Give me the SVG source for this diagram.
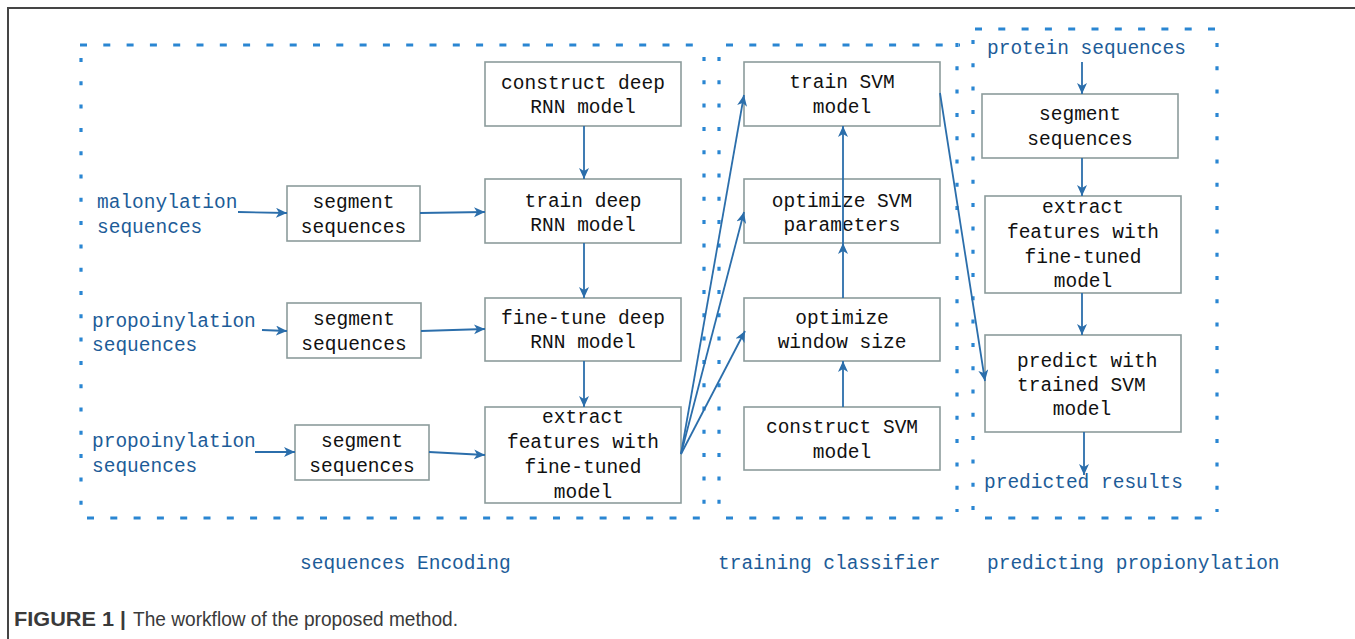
<svg xmlns="http://www.w3.org/2000/svg" width="1355" height="639" viewBox="0 0 1355 639">
  <style>
    .frame { fill: none; stroke: #454545; stroke-width: 2; }
    .hdash { fill: none; stroke: #2a86d2; stroke-width: 3.2; stroke-dasharray: 7 16.3; }
    .vdash { fill: none; stroke: #2a86d2; stroke-width: 3.2; stroke-dasharray: 4 19.3; }
    .box { fill: #ffffff; stroke: #8c9c9c; stroke-width: 1.6; }
    .t { font-family: "Liberation Mono", "DejaVu Sans Mono", monospace; font-size: 19.5px; fill: #111111; }
    .c { text-anchor: middle; }
    .lbl { font-family: "Liberation Mono", "DejaVu Sans Mono", monospace; font-size: 19.5px; fill: #1d5c98; }
    .conn { fill: none; stroke: #2b6eab; stroke-width: 1.8; marker-end: url(#arrow); }
    .cap { font-family: "Liberation Sans", Arial, sans-serif; font-size: 21px; fill: #3a3a3a; }
  </style>
  <defs>
    <marker id="arrow" markerUnits="userSpaceOnUse" markerWidth="12" markerHeight="11" refX="11" refY="5" orient="auto">
      <path d="M0,0 L11,5 L0,10 L3,5 Z" fill="#2b6eab"/>
    </marker>
  </defs>

  <rect width="1355" height="639" fill="#ffffff"/>

  <!-- page frame -->
  <path class="frame" d="M8,639 L8,8 L1355,8"/>

  <!-- stage boundaries -->
  <g id="stages">
    <!-- sequences encoding -->
    <line class="hdash" x1="80" y1="45" x2="703" y2="45"/>
    <line class="vdash" x1="81" y1="58" x2="81" y2="512"/>
    <line class="vdash" x1="704" y1="57" x2="704" y2="512"/>
    <line class="hdash" x1="87" y1="518" x2="700" y2="518"/>
    <!-- training classifier -->
    <line class="hdash" x1="726" y1="45" x2="960" y2="45"/>
    <line class="vdash" x1="719" y1="57" x2="719" y2="512"/>
    <line class="vdash" x1="957" y1="43" x2="957" y2="512"/>
    <line class="hdash" x1="726" y1="518" x2="950" y2="518"/>
    <!-- predicting propionylation -->
    <line class="hdash" x1="975" y1="29" x2="1216" y2="29"/>
    <line class="vdash" x1="973" y1="40" x2="973" y2="512"/>
    <line class="vdash" x1="1217" y1="43" x2="1217" y2="512"/>
    <line class="hdash" x1="985" y1="518" x2="1212" y2="518"/>
  </g>

  <!-- inputs and outputs -->
  <g id="in-malonylation">
    <text class="lbl" x="97" y="208">malonylation</text>
    <text class="lbl" x="97" y="233">sequences</text>
  </g>
  <g id="in-propionylation-1">
    <text class="lbl" x="92" y="327">propoinylation</text>
    <text class="lbl" x="92" y="351">sequences</text>
  </g>
  <g id="in-propionylation-2">
    <text class="lbl" x="92" y="447">propoinylation</text>
    <text class="lbl" x="92" y="472">sequences</text>
  </g>
  <g id="in-protein">
    <text class="lbl" x="987" y="54">protein sequences</text>
  </g>
  <g id="out-results">
    <text class="lbl" x="984" y="488">predicted results</text>
  </g>

  <!-- encoding column -->
  <g id="segment-1">
    <rect class="box" x="287" y="186" width="133" height="55"/>
    <text class="t c" x="353.5" y="208">segment</text>
    <text class="t c" x="353.5" y="233">sequences</text>
  </g>
  <g id="segment-2">
    <rect class="box" x="287" y="303" width="134" height="55"/>
    <text class="t c" x="354" y="325">segment</text>
    <text class="t c" x="354" y="350">sequences</text>
  </g>
  <g id="segment-3">
    <rect class="box" x="295" y="425" width="134" height="55"/>
    <text class="t c" x="362" y="447">segment</text>
    <text class="t c" x="362" y="472">sequences</text>
  </g>
  <g id="construct-rnn">
    <rect class="box" x="485" y="62" width="196" height="64"/>
    <text class="t c" x="583" y="89">construct deep</text>
    <text class="t c" x="583" y="113">RNN model</text>
  </g>
  <g id="train-rnn">
    <rect class="box" x="485" y="179" width="196" height="64"/>
    <text class="t c" x="583" y="207">train deep</text>
    <text class="t c" x="583" y="231">RNN model</text>
  </g>
  <g id="finetune-rnn">
    <rect class="box" x="485" y="298" width="196" height="63"/>
    <text class="t c" x="583" y="324">fine-tune deep</text>
    <text class="t c" x="583" y="348">RNN model</text>
  </g>
  <g id="extract-features">
    <rect class="box" x="485" y="407" width="196" height="96"/>
    <text class="t c" x="583" y="423">extract</text>
    <text class="t c" x="583" y="448">features with</text>
    <text class="t c" x="583" y="473">fine-tuned</text>
    <text class="t c" x="583" y="498">model</text>
  </g>

  <!-- classifier column -->
  <g id="train-svm">
    <rect class="box" x="744" y="62" width="196" height="64"/>
    <text class="t c" x="842" y="88">train SVM</text>
    <text class="t c" x="842" y="113">model</text>
  </g>
  <g id="optimize-params">
    <rect class="box" x="744" y="179" width="196" height="64"/>
    <text class="t c" x="842" y="207">optimize SVM</text>
    <text class="t c" x="842" y="231">parameters</text>
  </g>
  <g id="optimize-window">
    <rect class="box" x="744" y="298" width="196" height="63"/>
    <text class="t c" x="842" y="324">optimize</text>
    <text class="t c" x="842" y="348">window size</text>
  </g>
  <g id="construct-svm">
    <rect class="box" x="744" y="407" width="196" height="63"/>
    <text class="t c" x="842" y="433">construct SVM</text>
    <text class="t c" x="842" y="458">model</text>
  </g>

  <!-- prediction column -->
  <g id="segment-protein">
    <rect class="box" x="982" y="94" width="196" height="64"/>
    <text class="t c" x="1080" y="120">segment</text>
    <text class="t c" x="1080" y="145">sequences</text>
  </g>
  <g id="extract-protein">
    <rect class="box" x="985" y="196" width="196" height="97"/>
    <text class="t c" x="1083" y="213">extract</text>
    <text class="t c" x="1083" y="238">features with</text>
    <text class="t c" x="1083" y="263">fine-tuned</text>
    <text class="t c" x="1083" y="287">model</text>
  </g>
  <g id="predict">
    <rect class="box" x="985" y="335" width="196" height="97"/>
    <text class="t" x="1017" y="367">predict with</text>
    <text class="t" x="1017" y="391">trained SVM</text>
    <text class="t c" x="1082" y="415">model</text>
  </g>

  <!-- connectors -->
  <g id="connectors">
    <path class="conn" d="M238,212 L287,213"/>
    <path class="conn" d="M420,213 L485,212"/>
    <path class="conn" d="M584,126 L584,179"/>
    <path class="conn" d="M584,243 L584,298"/>
    <path class="conn" d="M584,361 L584,407"/>
    <path class="conn" d="M262,330 L287,331"/>
    <path class="conn" d="M421,331 L485,329"/>
    <path class="conn" d="M255,452 L295,452"/>
    <path class="conn" d="M429,452 L485,455"/>
    <path class="conn" d="M681,454 L744,95"/>
    <path class="conn" d="M681,454 L744,212"/>
    <path class="conn" d="M681,454 L745,331"/>
    <path class="conn" d="M843,243 L843,126"/>
    <path class="conn" d="M843,298 L843,243"/>
    <path class="conn" d="M843,407 L843,361"/>
    <path class="conn" d="M940,93 L985,381"/>
    <path class="conn" d="M1082,62 L1082,94"/>
    <path class="conn" d="M1082,158 L1082,196"/>
    <path class="conn" d="M1082,293 L1082,335"/>
    <path class="conn" d="M1084,432 L1084,475"/>
  </g>

  <!-- stage titles -->
  <g id="stage-titles">
    <text class="lbl" x="300" y="569">sequences Encoding</text>
    <text class="lbl" x="718" y="569">training classifier</text>
    <text class="lbl" x="987" y="569">predicting propionylation</text>
  </g>

  <!-- caption -->
  <g id="caption">
    <text class="cap" x="14" y="626" font-weight="bold" textLength="100" lengthAdjust="spacingAndGlyphs">FIGURE 1</text>
    <text class="cap" x="120" y="626" font-weight="bold">|</text>
    <text class="cap" x="133" y="626" textLength="325" lengthAdjust="spacingAndGlyphs">The workflow of the proposed method.</text>
  </g>
</svg>
